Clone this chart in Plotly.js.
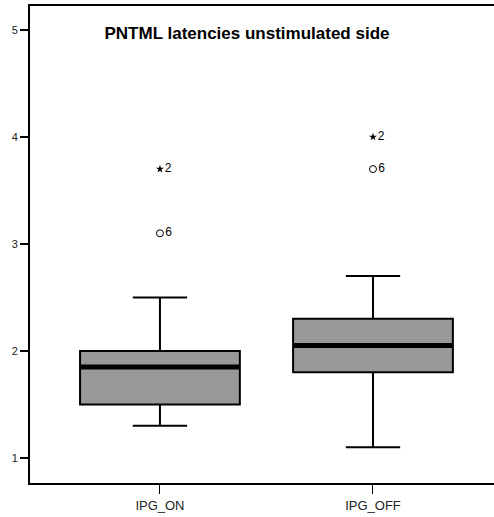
<!DOCTYPE html>
<html>
<head>
<meta charset="utf-8">
<script src="https://cdn.plot.ly/plotly-3.0.1.min.js"></script>
<style>html,body{margin:0;padding:0;background:#fff;}#chart{width:494px;height:517px;}</style>
</head>
<body>
<div id="chart"></div>
<script>
// Data
const categories = ['IPG_ON', 'IPG_OFF'];
const q1Values = [1.5, 1.8];
const medianValues = [1.85, 2.05];
const q3Values = [2.0, 2.3];
const lowerWhiskers = [1.3, 1.1];
const upperWhiskers = [2.5, 2.7];

// Outliers (circles) and extremes (stars) with case labels
const outlierCats = ['IPG_ON', 'IPG_OFF'];
const outlierValues = [3.1, 3.7];
const outlierLabels = ['6', '6'];
const extremeCats = ['IPG_ON', 'IPG_OFF'];
const extremeValues = [3.7, 4.0];
const extremeLabels = ['2', '2'];

const yTickVals = [1, 2, 3, 4, 5];
const chartTitle = 'PNTML latencies unstimulated side';

const boxWidth = 0.75;

const boxTrace = {
  type: 'box',
  x: categories,
  q1: q1Values,
  median: medianValues,
  q3: q3Values,
  lowerfence: lowerWhiskers,
  upperfence: upperWhiskers,
  boxpoints: false,
  width: boxWidth,
  whiskerwidth: 0.34,
  fillcolor: '#999999',
  line: {color: '#000000', width: 2},
  hoverinfo: 'skip'
};

const outlierTrace = {
  type: 'scatter',
  mode: 'markers+text',
  x: outlierCats,
  y: outlierValues,
  text: outlierLabels,
  textposition: 'middle right',
  textfont: {family: 'Liberation Sans, Arial, sans-serif', size: 12, color: '#000'},
  marker: {symbol: 'circle-open', size: 7, color: '#000', line: {width: 1, color: '#000'}},
  cliponaxis: false,
  hoverinfo: 'skip'
};

const extremeTrace = {
  type: 'scatter',
  mode: 'markers+text',
  x: extremeCats,
  y: extremeValues,
  text: extremeLabels,
  textposition: 'middle right',
  textfont: {family: 'Liberation Sans, Arial, sans-serif', size: 12, color: '#000'},
  marker: {symbol: 'star', size: 6, color: '#000', line: {width: 0}},
  cliponaxis: false,
  hoverinfo: 'skip'
};

// Thick median lines derived from the data arrays
const medianShapes = categories.map((c, i) => ({
  type: 'line', xref: 'x', yref: 'y',
  x0: i - boxWidth / 2, x1: i + boxWidth / 2,
  y0: medianValues[i], y1: medianValues[i],
  line: {color: '#000', width: 5}
}));

const layout = {
  width: 494, height: 517,
  margin: {l: 30, r: 0, t: 6, b: 34},
  paper_bgcolor: '#fff', plot_bgcolor: '#fff',
  showlegend: false,
  font: {family: 'Liberation Sans, Arial, sans-serif', color: '#222'},
  title: {
    text: '<b>' + chartTitle + '</b>',
    font: {family: 'Liberation Sans, Arial, sans-serif', size: 17, color: '#000'},
    xref: 'container', x: 0.5, xanchor: 'center',
    yref: 'container', y: 1 - 33 / 517, yanchor: 'middle'
  },
  xaxis: {
    type: 'category',
    range: [-0.61, 1.568],
    showline: true, linecolor: '#000', linewidth: 2, mirror: true,
    ticks: 'outside', ticklen: 9, tickwidth: 1, tickcolor: '#000',
    showgrid: false, zeroline: false,
    tickfont: {size: 13, color: '#222'}
  },
  yaxis: {
    range: [0.766, 5.224],
    tickvals: yTickVals,
    showline: true, linecolor: '#000', linewidth: 2,
    ticks: 'outside', ticklen: 8, tickwidth: 1.5, tickcolor: '#000',
    showgrid: false, zeroline: false,
    tickfont: {size: 11, color: '#222'}
  },
  shapes: medianShapes
};

Plotly.newPlot('chart', [boxTrace, outlierTrace, extremeTrace], layout, {displayModeBar: false, staticPlot: true});
</script>
</body>
</html>
